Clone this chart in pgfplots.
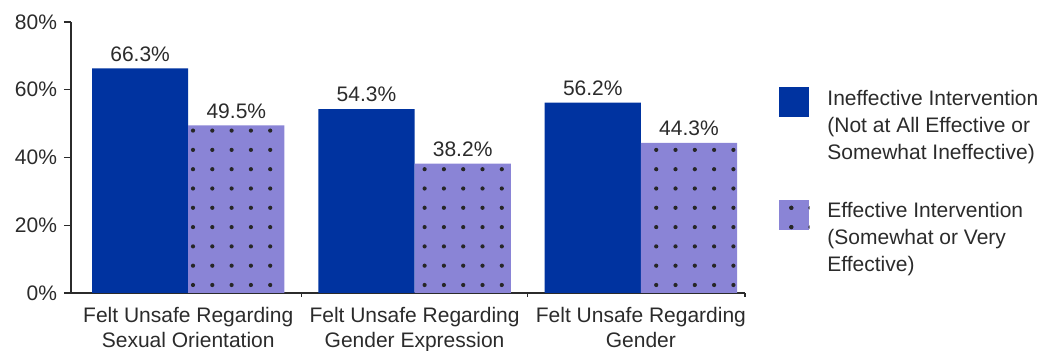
\documentclass[border=0pt]{standalone}
\usepackage{fontspec}
\setmainfont{Liberation Sans}
\usepackage{pgfplots}
\pgfplotsset{compat=1.18}
\usetikzlibrary{patterns.meta}

\definecolor{darkblue}{HTML}{0033A0}
\definecolor{lilac}{HTML}{8A84D6}
\definecolor{txt}{HTML}{2B2B2B}

% sparse dot grid used on the light bars
\pgfdeclarepattern{
  name=sparsedots, type=uncolored,
  bottom left={\pgfpoint{-4.825pt}{-0.775pt}},
  top right={\pgfpoint{4.825pt}{8.875pt}},
  tile size={\pgfpoint{9.65pt}{9.65pt}},
  code={\pgfpathcircle{\pgfpoint{0pt}{4.05pt}}{1.05pt}\pgfusepath{fill}}
}

\begin{document}
\begin{tikzpicture}
\begin{axis}[
    name=ax, at={(0,0)}, anchor=south west,
    scale only axis, width=337pt, height=135.5pt,
    xmin=-0.518, xmax=2.46, ymin=0, ymax=80,
    axis lines=left,
    axis line style={-, draw=txt, line width=0.7pt},
    ybar=0pt, bar width=0.425,
    xtick={0,1,2},
    xticklabels={Felt Unsafe Regarding\\Sexual Orientation,
                 Felt Unsafe Regarding\\Gender Expression,
                 Felt Unsafe Regarding\\Gender},
    minor xtick={0.5,1.5,2.46},
    major x tick style={draw=none},
    ytick={0,20,40,60,80},
    yticklabel={\pgfmathprintnumber{\tick}\%},
    /pgf/number format/assume math mode=true,
    tick align=outside, major tick length=3.5pt, minor tick length=2pt,
    tick style={txt, line width=0.7pt},
    tick label style={text=txt, font=\fontsize{10.5}{12.5}\selectfont},
    xticklabel style={align=center},
    nodes near coords={\pgfmathprintnumber[fixed,precision=1,fixed zerofill]{\pgfplotspointmeta}\%},
    every node near coord/.append style={text=txt, font=\fontsize{10.5}{12.5}\selectfont},
    legend style={at={(1,1)}, anchor=north west, xshift=17pt, yshift=-32.5pt,
        draw=none, fill=none, inner sep=0pt, row sep=18.5pt, column sep=9pt,
        font=\fontsize{10.5}{13.5}\selectfont, text=txt,
        nodes={align=left, inner sep=0pt}},
    legend cell align=left,
]
\addplot[fill=darkblue, draw=none,
    legend image code/.code={\fill[darkblue] (0pt,4.5pt) rectangle (15pt,19.5pt);}]
    coordinates {(0,66.3) (1,54.3) (2,56.2)};
\addlegendentry{Ineffective Intervention\\(Not at All Effective or\\Somewhat Ineffective)}
\addplot[fill=lilac, draw=none, postaction={pattern=sparsedots, pattern color=black!85},
    legend image code/.code={\fill[lilac, postaction={pattern=sparsedots, pattern color=black!85}] (0pt,4.5pt) rectangle (15pt,19.5pt);}]
    coordinates {(0,49.5) (1,38.2) (2,44.3)};
\addlegendentry{Effective Intervention\\(Somewhat or Very\\Effective)}
\end{axis}
\pgfresetboundingbox
\path ([shift={(-35.5pt,-29pt)}]ax.south west) rectangle ([shift={(488pt,146.5pt)}]ax.south west);
\end{tikzpicture}
\end{document}
